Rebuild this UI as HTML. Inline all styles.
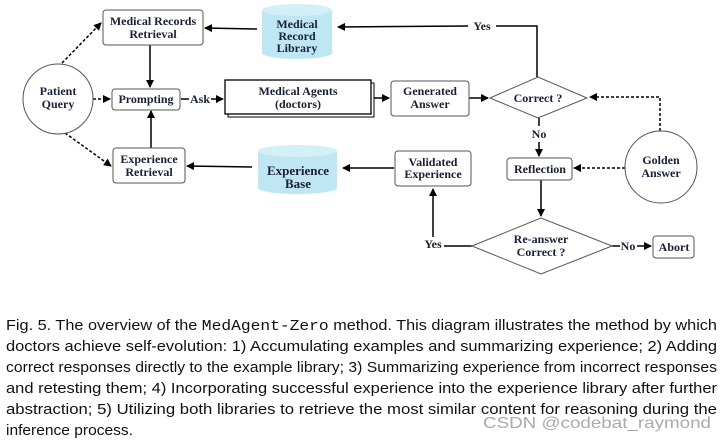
<!DOCTYPE html>
<html><head><meta charset="utf-8"><style>
html,body{margin:0;padding:0;background:#fff;}
svg{display:block;}
.t{font-family:"Liberation Serif",serif;font-weight:bold;font-size:12px;fill:#1a1f3a;text-anchor:middle;}
.c{font-family:"Liberation Sans",sans-serif;font-size:15px;fill:#111;}
</style></head><body>
<svg width="723" height="441" viewBox="0 0 723 441" xmlns="http://www.w3.org/2000/svg">
<defs>
<marker id="a" markerWidth="8" markerHeight="8" refX="7" refY="4" orient="auto" markerUnits="userSpaceOnUse"><path d="M0,0 L8,4 L0,8 z" fill="#000"/></marker>
</defs>
<g stroke="#000" stroke-width="1.5" fill="none">
<line x1="62" y1="63" x2="101" y2="23" stroke-dasharray="3,2" marker-end="url(#a)"/>
<line x1="93" y1="99" x2="110" y2="99" stroke-dasharray="3,2" marker-end="url(#a)"/>
<line x1="65" y1="133" x2="111" y2="166" stroke-dasharray="3,2" marker-end="url(#a)"/>
<line x1="150" y1="45" x2="150" y2="87" marker-end="url(#a)"/>
<line x1="151" y1="148" x2="151" y2="111" marker-end="url(#a)"/>
<line x1="257" y1="29" x2="205" y2="28" marker-end="url(#a)"/>
<line x1="252" y1="167" x2="187" y2="166" marker-end="url(#a)"/>
<line x1="181" y1="99" x2="189" y2="99"/>
<line x1="211" y1="99" x2="223" y2="99" marker-end="url(#a)"/>
<line x1="374" y1="98" x2="389" y2="98" marker-end="url(#a)"/>
<line x1="469" y1="98" x2="488" y2="98" marker-end="url(#a)"/>
<polyline points="537,77 537,26 496,26"/>
<polyline points="468,26 338,27" marker-end="url(#a)"/>
<line x1="539" y1="118" x2="539" y2="126"/>
<line x1="539" y1="142" x2="539" y2="156" marker-end="url(#a)"/>
<polyline points="660,131 660,97 590,97" stroke-dasharray="3,2" marker-end="url(#a)"/>
<line x1="625" y1="168" x2="574" y2="168" stroke-dasharray="3,2" marker-end="url(#a)"/>
<line x1="541" y1="180" x2="541" y2="216" marker-end="url(#a)"/>
<line x1="394" y1="168" x2="343" y2="168" marker-end="url(#a)"/>
<line x1="472" y1="246" x2="444" y2="246"/>
<line x1="433" y1="237" x2="433" y2="189" marker-end="url(#a)"/>
<line x1="612" y1="246" x2="620" y2="246"/>
<line x1="637" y1="246" x2="651" y2="246" marker-end="url(#a)"/>
</g>
<g stroke="#555" stroke-width="1" fill="#fff">
<circle cx="58" cy="99" r="35"/>
<circle cx="661" cy="167" r="36"/>
<rect x="103" y="10" width="100" height="35" rx="3"/>
<rect x="112" y="89" width="68" height="21" rx="3"/>
<rect x="113" y="148" width="72" height="35" rx="3"/>
<rect x="391" y="81" width="78" height="35" rx="3"/>
<rect x="507" y="158" width="65" height="22" rx="3"/>
<rect x="395" y="151" width="76" height="35" rx="3"/>
<rect x="653" y="236" width="41" height="22" rx="3"/>
<polygon points="490,98 538,77 587,98 538,118"/>
<polygon points="472,246 541,218 612,246 541,274"/>
</g>
<rect x="228" y="83" width="146" height="34" fill="#fff" stroke="#000" stroke-width="1"/>
<rect x="225" y="80" width="146" height="34" fill="#fff" stroke="#000" stroke-width="1.3"/>
<g fill="#bfe6f3">
<rect x="262" y="10" width="70" height="43"/>
<ellipse cx="297" cy="53" rx="35" ry="6"/>
<ellipse cx="297" cy="10" rx="35" ry="6" fill="#d3eff8"/>
<rect x="258" y="151" width="79" height="37"/>
<ellipse cx="297.5" cy="188" rx="39.5" ry="6"/>
<ellipse cx="297.5" cy="151" rx="39.5" ry="6" fill="#d3eff8"/>
</g>
<g class="t">
<text x="58" y="95">Patient</text><text x="58" y="108">Query</text>
<text x="153" y="25">Medical Records</text><text x="153" y="38">Retrieval</text>
<text x="297" y="28">Medical</text><text x="297" y="40">Record</text><text x="297" y="52">Library</text>
<text x="146" y="103">Prompting</text>
<text x="200" y="103">Ask</text>
<text x="298" y="95">Medical Agents</text><text x="298" y="108">(doctors)</text>
<text x="430" y="95">Generated</text><text x="430" y="108">Answer</text>
<text x="538" y="102">Correct ?</text>
<text x="482" y="30">Yes</text>
<text x="539" y="138">No</text>
<text x="540" y="173">Reflection</text>
<text x="661" y="164">Golden</text><text x="661" y="177">Answer</text>
<text x="433" y="166">Validated</text><text x="433" y="178">Experience</text>
<text x="149" y="163">Experience</text><text x="149" y="176">Retrieval</text>
<text x="298" y="175" font-size="13">Experience</text><text x="298" y="188" font-size="13">Base</text>
<text x="541" y="243">Re-answer</text><text x="541" y="256">Correct ?</text>
<text x="433" y="248">Yes</text>
<text x="628" y="250">No</text>
<text x="674" y="251">Abort</text>
</g>
<g class="c">
<text x="6" y="330" textLength="711" lengthAdjust="spacingAndGlyphs">Fig. 5.  The overview of the <tspan font-family="Liberation Mono">MedAgent-Zero</tspan> method. This diagram illustrates the method by which</text>
<text x="6" y="351" textLength="711" lengthAdjust="spacingAndGlyphs">doctors achieve self-evolution: 1) Accumulating examples and summarizing experience; 2) Adding</text>
<text x="6" y="372" textLength="711" lengthAdjust="spacingAndGlyphs">correct responses directly to the example library; 3) Summarizing experience from incorrect responses</text>
<text x="6" y="393" textLength="711" lengthAdjust="spacingAndGlyphs">and retesting them; 4) Incorporating successful experience into the experience library after further</text>
<text x="6" y="414" textLength="711" lengthAdjust="spacingAndGlyphs">abstraction; 5) Utilizing both libraries to retrieve the most similar content for reasoning during the</text>
<text x="6" y="435" textLength="127" lengthAdjust="spacingAndGlyphs">inference process.</text>
<text x="483" y="428" textLength="228" lengthAdjust="spacingAndGlyphs" fill="#aaa" font-size="16">CSDN @codebat_raymond</text>
</g>
</svg>
</body></html>
